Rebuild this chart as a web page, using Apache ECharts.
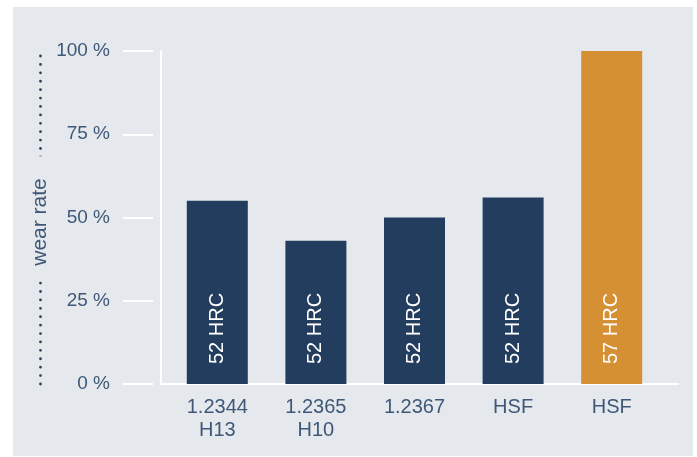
<!DOCTYPE html>
<html>
<head>
<meta charset="utf-8">
<script src="https://cdn.jsdelivr.net/npm/echarts@6/dist/echarts.min.js"></script>
<style>
  html, body { margin: 0; padding: 0; background: #ffffff; width: 697px; height: 457px; overflow: hidden; }
  #panel { position: absolute; left: 13px; top: 7px; width: 680px; height: 449px; background: #e5e8ed; }
  #chart { width: 680px; height: 449px; }
</style>
</head>
<body>
<div id="panel"><div id="chart"></div></div>
<script>
// ---- data ----
const categories = ['1.2344\nH13', '1.2365\nH10', '1.2367', 'HSF', 'HSF'];
const wearRate = [55, 43, 50, 56, 100];
const hardness = ['52 HRC', '52 HRC', '52 HRC', '52 HRC', '57 HRC'];
const yMin = 0, yMax = 100, yStep = 25;
const yAxisName = 'wear rate';

// ---- styles ----
const navy = '#223d5d';
const orange = '#d59033';
const textColor = '#3f5877';
const panelColor = '#e5e8ed';
const fontFamily = '"Liberation Sans", Arial, Helvetica, sans-serif';

const chart = echarts.init(document.getElementById('chart'), null, { renderer: 'canvas' });

chart.setOption({
  animation: false,
  backgroundColor: panelColor,
  textStyle: { fontFamily: fontFamily },
  grid: [
    { left: 155, right: 32, top: 44, bottom: 72 },   // data grid
    { left: 148, right: 15, top: 44, bottom: 72 }    // axis-line grid
  ],
  xAxis: [
    {
      type: 'category', gridIndex: 0, data: categories,
      axisLine: { show: false }, axisTick: { show: false },
      axisLabel: { color: textColor, fontSize: 20, lineHeight: 23, margin: 12, fontFamily: fontFamily }
    },
    {
      type: 'value', gridIndex: 1, min: 0, max: 1,
      axisLine: { show: true, lineStyle: { color: '#ffffff', width: 2 } },
      axisTick: { show: false }, axisLabel: { show: false }, splitLine: { show: false }
    }
  ],
  yAxis: [
    {
      type: 'value', gridIndex: 0, min: yMin, max: yMax, interval: yStep,
      axisLine: { show: false }, axisTick: { show: false }, axisLabel: { show: false }, splitLine: { show: false }
    },
    {
      // main vertical axis line
      type: 'value', gridIndex: 1, min: yMin, max: yMax, interval: yStep,
      axisLine: { show: true, lineStyle: { color: '#ffffff', width: 2 } },
      axisTick: { show: false }, axisLabel: { show: false }, splitLine: { show: false }
    },
    {
      // detached ticks and labels
      type: 'value', gridIndex: 1, position: 'left', offset: 8,
      min: yMin, max: yMax, interval: yStep,
      axisLine: { show: false },
      axisTick: { show: true, length: 30, lineStyle: { color: '#ffffff', width: 2 } },
      axisLabel: { show: true, margin: 43, color: textColor, fontSize: 19, fontFamily: fontFamily,
                   formatter: '{value} %' },
      splitLine: { show: false }
    },
    {
      // dotted axis
      type: 'value', gridIndex: 1, position: 'left', offset: 121, z: 1,
      min: yMin, max: yMax,
      axisLine: { show: true, lineStyle: { color: '#2a4262', width: 2.8, type: [0.01, 8.4], cap: 'round' } },
      axisTick: { show: false }, axisLabel: { show: false }, splitLine: { show: false }
    },
    {
      // axis name on top of dotted line
      type: 'value', gridIndex: 1, position: 'left', offset: 121, z: 10,
      min: yMin, max: yMax,
      axisLine: { show: false }, axisTick: { show: false }, axisLabel: { show: false }, splitLine: { show: false },
      name: yAxisName, nameLocation: 'middle', nameRotate: 90, nameGap: -11,
      nameTextStyle: { color: textColor, fontSize: 21, fontFamily: fontFamily,
                       backgroundColor: panelColor, padding: [0, 22, 0, 13] }
    }
  ],
  series: [
    {
      type: 'bar', xAxisIndex: 0, yAxisIndex: 0,
      barWidth: 61,
      data: wearRate.map((v, i) => ({
        value: v,
        itemStyle: { color: i === wearRate.length - 1 ? orange : navy }
      })),
      label: {
        show: true, position: 'insideBottom', rotate: 90, distance: 20,
        align: 'left', verticalAlign: 'middle',
        color: '#ffffff', fontSize: 20, fontFamily: fontFamily,
        formatter: p => hardness[p.dataIndex]
      }
    }
  ]
});
</script>
</body>
</html>
